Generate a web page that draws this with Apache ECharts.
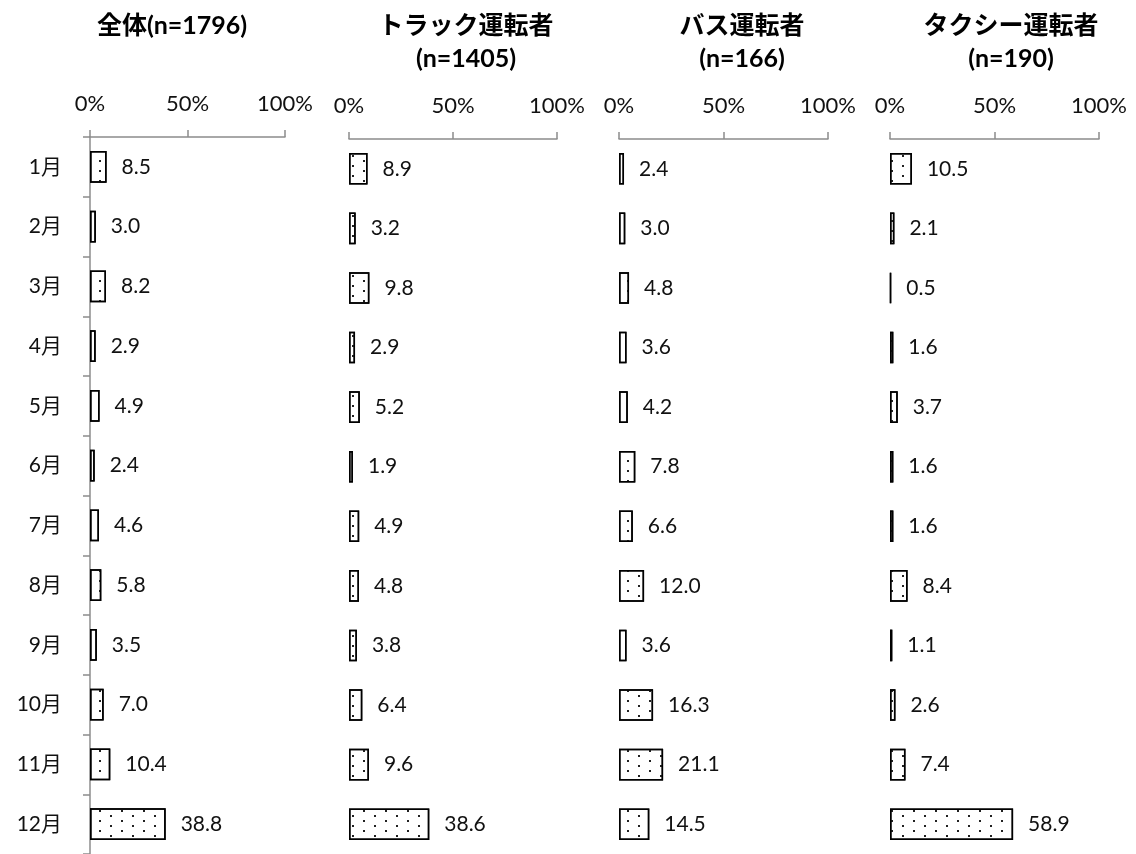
<!DOCTYPE html>
<html><head><meta charset="utf-8">
<script src="https://cdn.jsdelivr.net/npm/echarts@6/dist/echarts.min.js"></script>
<style>html,body{margin:0;padding:0;background:#fff}#c{width:1136px;height:854px}</style>
</head><body><div id="c"></div>
<script>
const months = ['1月','2月','3月','4月','5月','6月','7月','8月','9月','10月','11月','12月'];
const panelTitles = ['全体(n=1796)', 'トラック運転者\n(n=1405)', 'バス運転者\n(n=166)', 'タクシー運転者\n(n=190)'];
const xTickLabels = ['0%', '50%', '100%'];
const allValues   = [8.5, 3.0, 8.2, 2.9, 4.9, 2.4, 4.6, 5.8, 3.5, 7.0, 10.4, 38.8];
const truckValues = [8.9, 3.2, 9.8, 2.9, 5.2, 1.9, 4.9, 4.8, 3.8, 6.4, 9.6, 38.6];
const busValues   = [2.4, 3.0, 4.8, 3.6, 4.2, 7.8, 6.6, 12.0, 3.6, 16.3, 21.1, 14.5];
const taxiValues  = [10.5, 2.1, 0.5, 1.6, 3.7, 1.6, 1.6, 8.4, 1.1, 2.6, 7.4, 58.9];

const panelValues = [allValues, truckValues, busValues, taxiValues];
const layout = [
  {left: 90,  width: 195, top: 137, height: 720, titleX: 167},
  {left: 349, width: 208, top: 139, height: 722, titleX: 461},
  {left: 619, width: 209, top: 139, height: 722, titleX: 737},
  {left: 890, width: 209, top: 139, height: 722, titleX: 1006}
];
const FONT = "Lato, 'Noto Sans CJK JP', sans-serif";
const axisGray = '#8c8c8c';

const chart = echarts.init(document.getElementById('c'));
const option = {
  backgroundColor: '#fff',
  animation: false,
  title: layout.map((l, i) => ({
    text: panelTitles[i], left: l.titleX, top: 4, textAlign: 'center',
    textStyle: {fontFamily: FONT, fontWeight: 'bold', fontSize: 25, color: '#000', lineHeight: 33}
  })),
  grid: layout.map(l => ({left: l.left, width: l.width, top: l.top, height: l.height, containLabel: false})),
  xAxis: layout.map((l, i) => ({
    gridIndex: i, type: 'value', position: 'top', min: 0, max: 100, interval: 50,
    axisLine: {show: true, lineStyle: {color: axisGray, width: 1.5}},
    axisTick: {show: true, length: 7, lineStyle: {color: axisGray, width: 1.5}},
    splitLine: {show: false},
    axisLabel: {fontFamily: FONT, fontSize: 22, color: '#111', margin: 22,
      formatter: v => xTickLabels[Math.round(v / 50)]}
  })),
  yAxis: layout.map((l, i) => ({
    gridIndex: i, type: 'category', data: months, inverse: true,
    axisLine: {show: i === 0, lineStyle: {color: axisGray, width: 1.5}},
    axisTick: {show: i === 0, length: 7, lineStyle: {color: axisGray, width: 1.5}},
    axisLabel: {show: i === 0, fontFamily: FONT, fontSize: 21, color: '#111', margin: 28}
  })),
  series: panelValues.map((vals, i) => ({
    type: 'bar', xAxisIndex: i, yAxisIndex: i, data: vals, barWidth: '53%',
    itemStyle: {
      color: '#fff', borderColor: '#000', borderWidth: 1.5,
      decal: {symbol: 'rect', symbolSize: 1, color: '#222', rotation: 0,
        dashArrayX: [[2, 20], [0, 11, 2, 9]], dashArrayY: [2, 3]}
    },
    label: {show: true, position: 'right', distance: 15, fontFamily: FONT, fontSize: 21, color: '#111',
      formatter: p => p.value.toFixed(1)}
  }))
};
chart.setOption(option);
</script>
</body></html>
